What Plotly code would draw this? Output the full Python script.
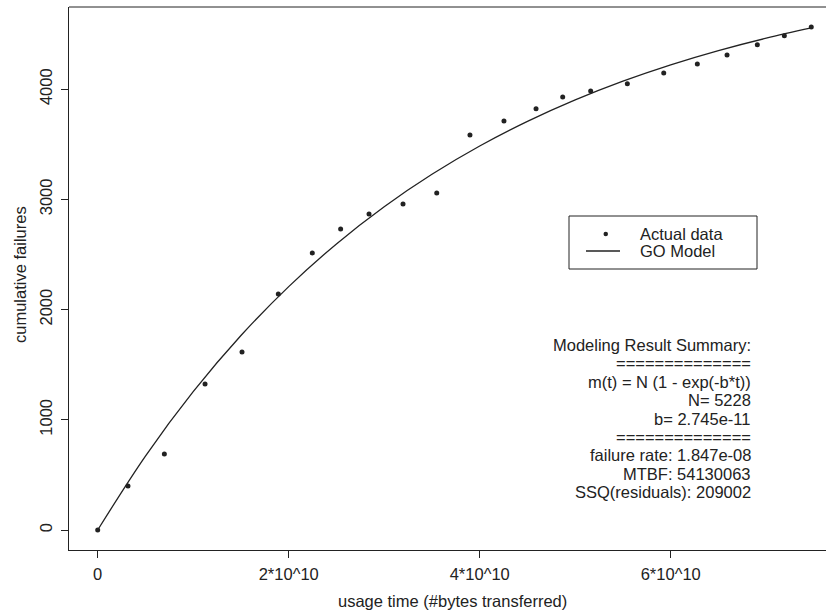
import plotly.graph_objects as go

# ---- data ----
usage_time = [0, 0.317e10, 0.698e10, 1.124e10, 1.511e10, 1.891e10, 2.247e10, 2.544e10,
              2.841e10, 3.197e10, 3.550e10, 3.898e10, 4.254e10, 4.590e10, 4.869e10,
              5.162e10, 5.546e10, 5.927e10, 6.279e10, 6.590e10, 6.907e10, 7.190e10, 7.472e10]
cum_failures = [0, 399, 690, 1325, 1615, 2142, 2514, 2731, 2867, 2958, 3058, 3584, 3711,
                3823, 3929, 3984, 4050, 4147, 4229, 4310, 4404, 4486, 4564]

model_time = [0, 0.5e10, 1.0e10, 1.5e10, 2.0e10, 2.5e10, 3.0e10, 3.5e10, 4.0e10, 4.5e10,
              5.0e10, 5.5e10, 6.0e10, 6.5e10, 7.0e10, 7.472e10]
model_failures = [0, 670.5, 1254.9, 1764.4, 2208.6, 2595.9, 2933.4, 3227.6, 3484.1, 3707.7,
                  3902.7, 4072.7, 4220.8, 4350.0, 4462.6, 4555.7]

x_tickvals = [0, 2e10, 4e10, 6e10]
x_ticktext = ["0", "2*10^10", "4*10^10", "6*10^10"]
y_tickvals = [0, 1000, 2000, 3000, 4000]
y_ticktext = ["0", "1000", "2000", "3000", "4000"]

summary_lines = ["Modeling Result Summary:", "==============", "m(t) = N (1 - exp(-b*t))",
                 "N= 5228", "b= 2.745e-11", "==============", "failure rate: 1.847e-08",
                 "MTBF: 54130063", "SSQ(residuals): 209002"]
legend_labels = ["Actual data", "GO Model"]

# ---- layout geometry ----
W, H = 826, 612
ML, MR, MT, MB = 69, 0, 7, 62
PW, PH = W - ML - MR, H - MT - MB
INK = "#222222"
FONT = "Liberation Sans, Arial, Helvetica, sans-serif"
FS = 16.5


def xp(px):
    return (px - ML) / PW


def yp(py):
    return (H - MB - py) / PH


fig = go.Figure()
fig.add_trace(go.Scatter(x=model_time, y=model_failures, mode="lines",
                         line=dict(color=INK, width=1.3, shape="spline"),
                         name="GO Model", showlegend=False, hoverinfo="skip"))
fig.add_trace(go.Scatter(x=usage_time, y=cum_failures, mode="markers",
                         marker=dict(color=INK, size=5), name="Actual data",
                         showlegend=False))

shapes = [
    # top border of the box
    dict(type="line", xref="paper", yref="paper", x0=0, x1=1, y0=1, y1=1,
         line=dict(color=INK, width=1)),
    # legend box
    dict(type="rect", xref="paper", yref="paper", x0=xp(569), x1=xp(757),
         y0=yp(269), y1=yp(216), line=dict(color=INK, width=1), fillcolor="white"),
    dict(type="line", xref="paper", yref="paper", x0=xp(586), x1=xp(620),
         y0=yp(251), y1=yp(251), line=dict(color=INK, width=1.3)),
    dict(type="circle", xref="paper", yref="paper", x0=xp(603.5), x1=xp(608),
         y0=yp(236.2), y1=yp(231.8), line=dict(color=INK, width=0), fillcolor=INK),
]

annotations = []
for i, lab in enumerate(legend_labels):
    annotations.append(dict(text=lab, xref="paper", yref="paper", x=xp(638),
                            y=yp(234 + 17 * i), xanchor="left", yanchor="middle",
                            showarrow=False, font=dict(family=FONT, size=FS, color=INK)))
for i, line in enumerate(summary_lines):
    annotations.append(dict(text=line, xref="paper", yref="paper", x=xp(753),
                            y=yp(345 + 18.375 * i), xanchor="right", yanchor="middle",
                            showarrow=False, font=dict(family=FONT, size=FS, color=INK)))
annotations.append(dict(text="usage time (#bytes transferred)", xref="paper", yref="paper",
                        x=xp(452), y=yp(601), xanchor="center", yanchor="middle",
                        showarrow=False, font=dict(family=FONT, size=FS, color=INK)))
annotations.append(dict(text="cumulative failures", xref="paper", yref="paper",
                        x=xp(20), y=yp(275), xanchor="center", yanchor="middle",
                        textangle=-90, showarrow=False,
                        font=dict(family=FONT, size=FS, color=INK)))

xscale = 191 / 2e10          # px per unit
x0 = -(97.7 - ML) / xscale
x1 = x0 + PW / xscale
yscale = 110.2 / 1000
y0 = -(550 - 530) / yscale
y1 = y0 + PH / yscale

fig.update_layout(
    width=W, height=H,
    margin=dict(l=ML, r=MR, t=MT, b=MB, pad=0),
    paper_bgcolor="white", plot_bgcolor="white",
    font=dict(family=FONT, size=FS, color=INK),
    shapes=shapes, annotations=annotations,
    xaxis=dict(range=[x0, x1], showgrid=False, zeroline=False, showline=True,
               linecolor=INK, linewidth=1, mirror=False, ticks="outside", ticklen=7,
               tickwidth=1, tickcolor=INK, tickvals=x_tickvals, ticktext=x_ticktext,
               tickfont=dict(family=FONT, size=FS, color=INK), ticklabelstandoff=2),
    yaxis=dict(range=[y0, y1], showgrid=False, zeroline=False, showline=True,
               linecolor=INK, linewidth=1, mirror=False, ticks="outside", ticklen=7,
               tickwidth=1, tickcolor=INK, tickvals=y_tickvals, ticktext=y_ticktext,
               tickangle=-90, tickfont=dict(family=FONT, size=FS, color=INK),
               ticklabelstandoff=2),
)

fig.write_html("out.html", config={"displayModeBar": False},
               post_script="document.body.style.margin='0';document.body.style.overflow='hidden';")
